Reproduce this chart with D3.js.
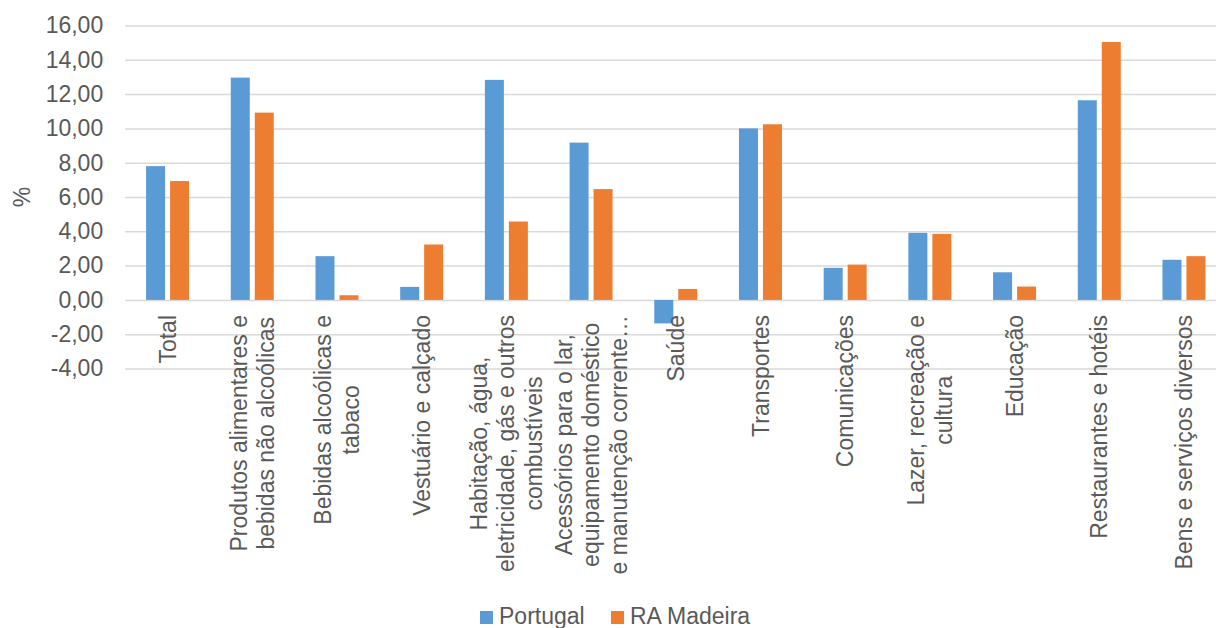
<!DOCTYPE html>
<html><head><meta charset="utf-8">
<script src="https://cdn.jsdelivr.net/npm/d3@7"></script>
<style>
body{margin:0;background:#fff}
svg{display:block}
text{font-family:"Liberation Sans",Arial,sans-serif;fill:#595959}
</style>
</head><body>
<svg id="c" width="1216" height="628"></svg>
<script>
const categories = [
  "Total",
  "Produtos alimentares e bebidas não alcoólicas",
  "Bebidas alcoólicas e tabaco",
  "Vestuário e calçado",
  "Habitação, água, eletricidade, gás e outros combustíveis",
  "Acessórios para o lar, equipamento doméstico e manutenção corrente da habitação",
  "Saúde",
  "Transportes",
  "Comunicações",
  "Lazer, recreação e cultura",
  "Educação",
  "Restaurantes e hotéis",
  "Bens e serviços diversos"
];
const labelLines = [
  ["Total"],
  ["Produtos alimentares e", "bebidas não alcoólicas"],
  ["Bebidas alcoólicas e", "tabaco"],
  ["Vestuário e calçado"],
  ["Habitação, água,", "eletricidade, gás e outros", "combustíveis"],
  ["Acessórios para o lar,", "equipamento doméstico", "e manutenção corrente…"],
  ["Saúde"],
  ["Transportes"],
  ["Comunicações"],
  ["Lazer, recreação e", "cultura"],
  ["Educação"],
  ["Restaurantes e hotéis"],
  ["Bens e serviços diversos"]
];
const seriesNames = ["Portugal", "RA Madeira"];
const portugal = [7.80, 12.96, 2.55, 0.76, 12.83, 9.17, -1.37, 10.00, 1.87, 3.91, 1.61, 11.64, 2.34];
const madeira  = [6.93, 10.92, 0.27, 3.23, 4.57, 6.46, 0.64, 10.24, 2.06, 3.85, 0.78, 15.04, 2.55];
const yTicks = [-4, -2, 0, 2, 4, 6, 8, 10, 12, 14, 16];
const yTitle = "%";
const colors = ["#5B9BD5", "#ED7D31"];

const svg = d3.select("#c");
const plotLeft = 125.2, plotRight = 1226.3, plotTop = 25.5, plotBottom = 368.5;

const locale = d3.formatLocale({decimal: ",", thousands: ".", grouping: [3], currency: ["", "€"], minus: "-"});
const fmt = locale.format(".2f");

const y = d3.scaleLinear().domain([-4, 16]).range([plotBottom, plotTop]);
const x0 = d3.scaleBand().domain(categories).range([plotLeft, plotRight]).paddingInner(0).paddingOuter(0);
const bw = x0.bandwidth();
const x1 = d3.scaleBand().domain(seriesNames).range([bw * 0.2465, bw * 0.754]).paddingInner(0.208).paddingOuter(0);

// gridlines + y axis
const yAxis = d3.axisLeft(y).tickValues(yTicks).tickSize(-(plotRight - plotLeft)).tickPadding(22).tickFormat(fmt);
const ga = svg.append("g").attr("transform", `translate(${plotLeft},0)`).call(yAxis);
ga.select(".domain").remove();
ga.selectAll(".tick line").attr("stroke", "#d9d9d9").attr("stroke-width", 1.5);
ga.selectAll(".tick text").attr("font-size", 23).style("fill", "#595959")
  .style("font-family", '"Liberation Sans", Arial, sans-serif');

// y title
svg.append("text").attr("transform", `translate(30,${(plotTop + plotBottom) / 2}) rotate(-90)`)
  .attr("text-anchor", "middle").attr("font-size", 23).text(yTitle);

// bars
const data = categories.map((c, i) => ({cat: c, vals: [portugal[i], madeira[i]]}));
const groups = svg.append("g").selectAll("g").data(data).join("g")
  .attr("transform", d => `translate(${x0(d.cat)},0)`);
groups.selectAll("rect").data(d => d.vals.map((v, k) => ({s: seriesNames[k], v, k}))).join("rect")
  .attr("x", d => x1(d.s))
  .attr("width", x1.bandwidth())
  .attr("y", d => y(Math.max(0, d.v)))
  .attr("height", d => Math.abs(y(d.v) - y(0)))
  .attr("fill", d => colors[d.k]);

// category labels
const labelTop = 315, lineH = 27.5;
categories.forEach((c, i) => {
  const cx = x0(c) + bw / 2;
  const g = svg.append("g").attr("transform", `translate(${cx},0) rotate(-90)`);
  const lines = labelLines[i];
  const texts = lines.map((ln, j) => g.append("text")
    .attr("font-size", 23).attr("text-anchor", "middle")
    .attr("y", (j - (lines.length - 1) / 2) * lineH)
    .attr("dy", "0.35em").text(ln));
  const maxLen = d3.max(texts, t => t.node().getComputedTextLength());
  texts.forEach(t => t.attr("x", -(labelTop + maxLen / 2)));
});

// legend
const legend = [{x: 480, tx: 499}, {x: 611, tx: 630}];
seriesNames.forEach((s, k) => {
  svg.append("rect").attr("x", legend[k].x).attr("y", 611).attr("width", 13).attr("height", 13).attr("fill", colors[k]);
  svg.append("text").attr("x", legend[k].tx).attr("y", 624).attr("font-size", 23).text(s);
});
</script>
</body></html>
